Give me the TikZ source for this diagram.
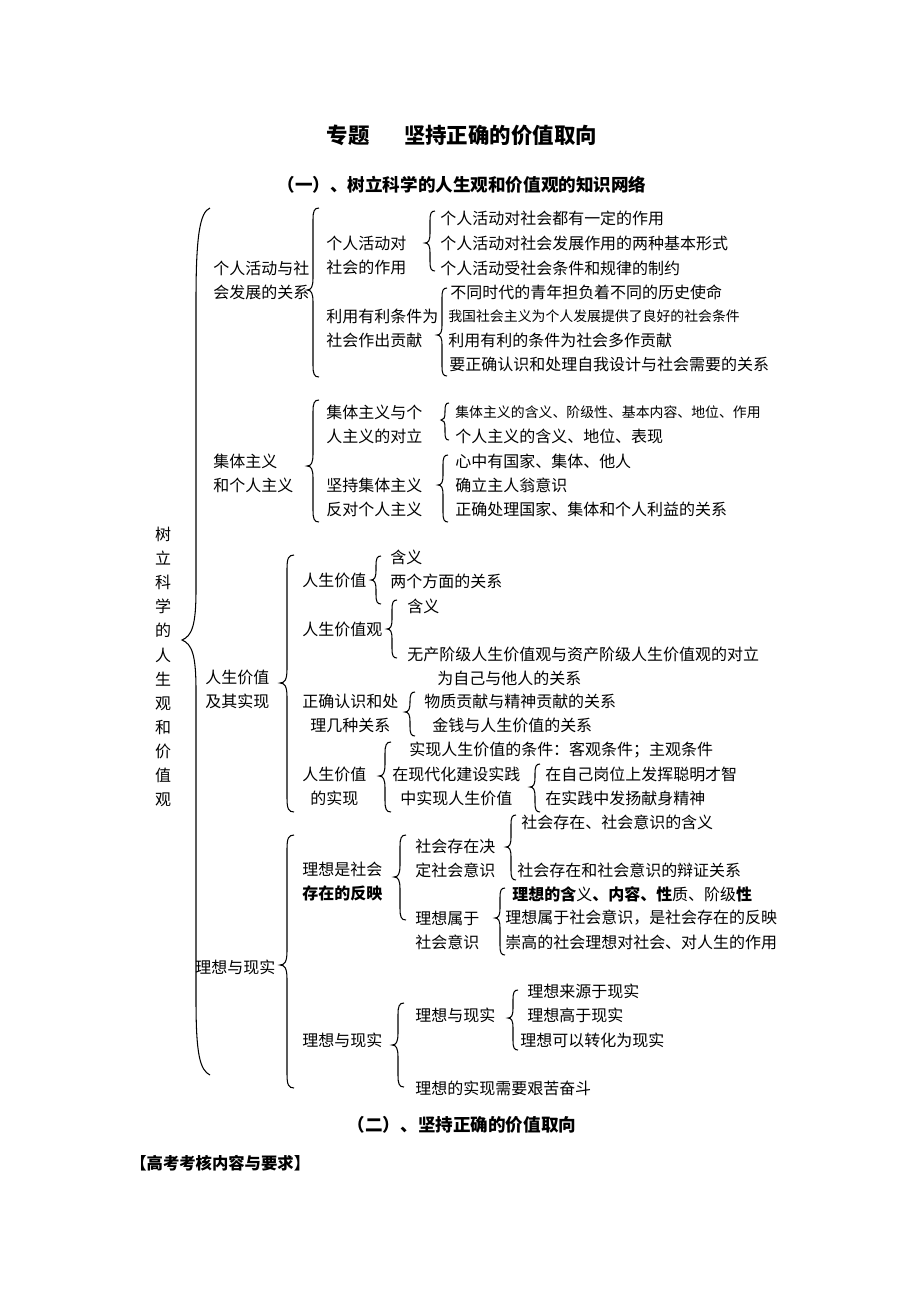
\documentclass[tikz,border=0pt]{standalone}
\usepackage{fontspec}
\setmainfont{Noto Sans CJK SC}

% brace opening to the right: [hook] {spine x}{top}{tip}{bottom}
\newcommand\kuohao[5][6]{%
  \draw[kuo] (#2+#1,#3) .. controls (#2+0.2*#1,#3) and (#2,#3+0.5*#1) .. (#2,#3+2*#1)
    -- (#2,#4-2*#1) .. controls (#2,#4-0.5*#1) and (#2-0.3*#1,#4) .. (#2-#1,#4)
    .. controls (#2-0.3*#1,#4) and (#2,#4+0.5*#1) .. (#2,#4+2*#1)
    -- (#2,#5-2*#1) .. controls (#2,#5-0.5*#1) and (#2+0.2*#1,#5) .. (#2+#1,#5);}

\tikzset{
  wz/.style={anchor=west, inner sep=0pt, align=left, font=\fontsize{9.1}{13.7}\selectfont},
  xwz/.style={wz, font=\fontsize{7.9}{13.7}\selectfont},
  bt/.style={inner sep=0pt, font=\fontsize{12.2}{14}\selectfont\bfseries},
  fbt/.style={inner sep=0pt, font=\fontsize{10}{12}\selectfont\bfseries},
  kuo/.style={line width=0.6pt},
}

\begin{document}
\begin{tikzpicture}[x=0.02cm, y=-0.02cm]

\fill[white] (0,0) rectangle (920,1302);
\useasboundingbox (0,0) rectangle (920,1302);

\node[bt] (title) at (462,135) {专题\hspace{1.6em}坚持正确的价值取向};
\node[fbt] (sub1) at (462,185) {（一）、树立科学的人生观和价值观的知识网络};

\node[wz, anchor=center, align=center] (shu) at (163,667) {树\\立\\科\\学\\的\\人\\生\\观\\和\\价\\值\\观};

% big brace
\draw[kuo] (210,208) .. controls (200,212) and (196,235) .. (196,300)
  -- (196,590) .. controls (196,625) and (192,636) .. (182,640)
  .. controls (192,644) and (196,655) .. (196,690)
  -- (196,1000) .. controls (196,1055) and (200,1070) .. (210,1075);

% 个人活动与社会发展的关系
\node[wz] (gr) at (213,280) {个人活动与社\\会发展的关系};
\kuohao{313}{208}{290}{377}
\node[wz] (gr1) at (326,255) {个人活动对\\社会的作用};
\kuohao[5]{430}{211}{243}{271}
\node[wz] (gr11) at (440,218) {个人活动对社会都有一定的作用};
\node[wz] (gr12) at (440,243) {个人活动对社会发展作用的两种基本形式};
\node[wz] (gr13) at (440,268) {个人活动受社会条件和规律的制约};
\node[wz] (gr2) at (326,328) {利用有利条件为\\社会作出贡献};
\kuohao[5]{442}{288}{335}{376}
\node[wz] (gr21) at (450,292) {不同时代的青年担负着不同的历史使命};
\node[xwz] (gr22) at (448,316) {我国社会主义为个人发展提供了良好的社会条件};
\node[wz] (gr23) at (448,340) {利用有利的条件为社会多作贡献};
\node[wz] (gr24) at (449,364) {要正确认识和处理自我设计与社会需要的关系};

% 集体主义和个人主义
\node[wz] (jt) at (213,473) {集体主义\\和个人主义};
\kuohao{313}{400}{466}{522}
\node[wz] (jt1) at (326,424) {集体主义与个\\人主义的对立};
\kuohao[4]{445}{403}{420}{440}
\node[xwz] (jt11) at (455,412) {集体主义的含义、阶级性、基本内容、地位、作用};
\node[wz] (jt12) at (455,436) {个人主义的含义、地位、表现};
\node[wz] (jt2) at (326,497) {坚持集体主义\\反对个人主义};
\kuohao[5]{443}{455}{485}{522}
\node[wz] (jt21) at (455,461) {心中有国家、集体、他人};
\node[wz] (jt22) at (455,485) {确立主人翁意识};
\node[wz] (jt23) at (455,509) {正确处理国家、集体和个人利益的关系};

% 人生价值及其实现
\node[wz] (rs) at (205,689) {人生价值\\及其实现};
\kuohao[7]{287}{555}{683}{812}
\node[wz] (rs1) at (302,580) {人生价值};
\kuohao[5]{376}{556}{580}{604}
\node[wz] (rs11) at (390,557) {含义};
\node[wz] (rs12) at (390,581) {两个方面的关系};
\node[wz] (rs2) at (302,629) {人生价值观};
\kuohao[5]{392}{600}{629}{658}
\node[wz] (rs21) at (407,606) {含义};
\node[wz] (rs22) at (407,654) {无产阶级人生价值观与资产阶级人生价值观的对立};
\node[wz, align=center] (rs3) at (302,713) {正确认识和处\\理几种关系};
\kuohao[5]{410}{692}{712}{736}
\node[wz] (rs31) at (437,678) {为自己与他人的关系};
\node[wz] (rs32) at (424,701) {物质贡献与精神贡献的关系};
\node[wz] (rs33) at (432,725) {金钱与人生价值的关系};
\node[wz, align=center] (rs4) at (302,786) {人生价值\\的实现};
\kuohao{385}{742}{776}{812}
\node[wz] (rs41) at (409,750) {实现人生价值的条件：客观条件；主观条件};
\node[wz, align=center] (rs42) at (392,786) {在现代化建设实践\\中实现人生价值};
\kuohao[5]{535}{764}{787}{812}
\node[wz] (rs421) at (545,774) {在自己岗位上发挥聪明才智};
\node[wz] (rs422) at (545,798) {在实践中发扬献身精神};

% 理想与现实
\node[wz] (lx) at (195,967) {理想与现实};
\kuohao[7]{287}{835}{965}{1088}
\node[wz] (lx1) at (302,882) {理想是社会\\\textbf{存在的反映}};
\kuohao{400}{835}{877}{920}
\node[wz] (lx11) at (415,858) {社会存在决\\定社会意识};
\kuohao[5]{511}{815}{847}{880}
\node[wz] (lx111) at (521,822) {社会存在、社会意识的含义};
\node[wz] (lx112) at (517,870) {社会存在和社会意识的辩证关系};
\node[wz] (lx12) at (415,930) {理想属于\\社会意识};
\kuohao[5]{500}{888}{918}{955}
\node[wz] (lx121) at (512,894) {\textbf{理想的含}义\textbf{、内容、性}质、阶级\textbf{性}};
\node[wz] (lx122) at (505,918) {理想属于社会意识，是社会存在的反映};
\node[wz] (lx123) at (505,942) {崇高的社会理想对社会、对人生的作用};
\node[wz] (lx2) at (302,1040) {理想与现实};
\kuohao{398}{1003}{1045}{1087}
\node[wz] (lx21) at (415,1015) {理想与现实};
\kuohao[5]{513}{990}{1018}{1050}
\node[wz] (lx211) at (527,991) {理想来源于现实};
\node[wz] (lx212) at (527,1015) {理想高于现实};
\node[wz] (lx213) at (520,1040) {理想可以转化为现实};
\node[wz] (lx22) at (415,1088) {理想的实现需要艰苦奋斗};

\node[fbt] (sub2) at (462,1125) {（二）、坚持正确的价值取向};
\node[fbt, anchor=west, font=\fontsize{9.3}{12}\selectfont\bfseries] (gk) at (130,1163) {【高考考核内容与要求】};

\end{tikzpicture}
\end{document}
